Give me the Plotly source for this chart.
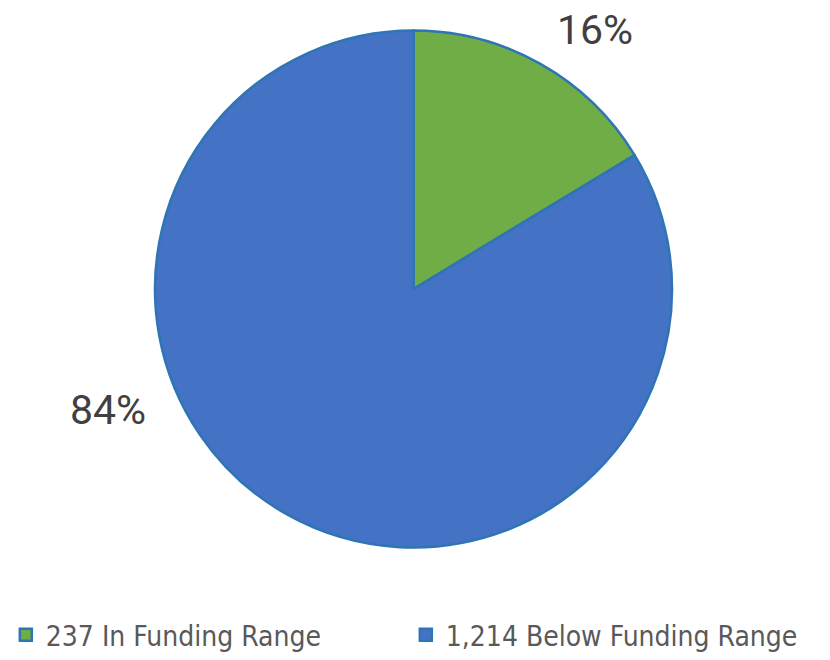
import plotly.graph_objects as go

labels = ["237 In Funding Range", "1,214 Below Funding Range"]
values = [237, 1214]
colors = ["#70AD47", "#4472C4"]

total = sum(values)
pcts = [f"{round(v / total * 100)}%" for v in values]

fig = go.Figure(go.Pie(
    labels=labels,
    values=values,
    sort=False,
    direction="clockwise",
    rotation=0,
    marker=dict(colors=colors, line=dict(color="#2E75B6", width=2.5)),
    textinfo="none",
    hoverinfo="label+percent",
    domain=dict(x=[155 / 830, 672 / 830], y=[(660 - 548) / 660, (660 - 30) / 660]),
))

label_pos = [(0.717, 0.955), (0.130, 0.379)]
for (x, y), t in zip(label_pos, pcts):
    fig.add_annotation(x=x, y=y, xref="paper", yref="paper", text=t, showarrow=False,
                       font=dict(family="Roboto", size=41, color="#404040"),
                       xanchor="center", yanchor="middle")

fig.update_layout(
    width=830, height=660,
    margin=dict(l=0, r=0, t=0, b=0),
    paper_bgcolor="white",
    plot_bgcolor="white",
    showlegend=True,
    legend=dict(orientation="h", x=0.007, xanchor="left", y=0.0, yanchor="bottom",
                font=dict(family="DejaVu Sans Condensed, Liberation Sans", size=28, color="#595959"),
                entrywidth=355, traceorder="normal"),
)

fig.write_html("out.html", post_script="document.body.style.margin='0';",
               config={"displayModeBar": False})
